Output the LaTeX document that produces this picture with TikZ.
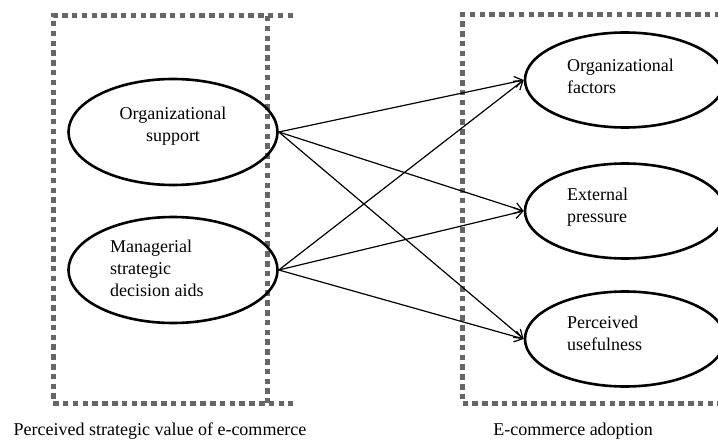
\documentclass[tikz,border=0pt]{standalone}
\usepackage{fontspec}
\setmainfont{Liberation Serif}
\usetikzlibrary{arrows.meta,shapes.geometric}
\begin{document}
\begin{tikzpicture}[x=1pt,y=-1pt,
  box/.style={draw=black!60,line width=5pt,dash pattern=on 5.5pt off 4.3pt},
  ell/.style={ellipse,draw,line width=2.6pt,minimum width=209pt,minimum height=106pt},
  ellr/.style={ell,minimum width=200pt,minimum height=95pt},
  txt/.style={align=left,font=\fontsize{18}{22}\selectfont,inner sep=0pt},
  link/.style={-{Straight Barb[length=8pt,width=11pt]},line width=1.2pt}]
\useasboundingbox (0,0) rectangle (718,441);
%boxes
\draw[box] (293,16) -- (53,16) -- (53,403) -- (293,403);
\draw[box] (267,16) -- (267,403);
\draw[box] (730,15) -- (462,15) -- (462,403) -- (730,403);
%constructs
\node[ell] (os) at (173,132) {};
\node[ell] (msda) at (173,270) {};
\node[ellr] (of) at (625,80) {};
\node[ellr] (ep) at (625,211) {};
\node[ellr] (pu) at (625,339) {};
\node[txt,align=center] (os-t) at (173,126) {Organizational\\support};
\node[txt,anchor=west] (msda-t) at (110,268) {Managerial\\strategic\\decision aids};
\node[txt,anchor=west] (of-t) at (567,76) {Organizational\\factors};
\node[txt,anchor=west] (ep-t) at (567,207) {External\\pressure};
\node[txt,anchor=west] (pu-t) at (567,333) {Perceived\\usefulness};
%links
\foreach \s in {os,msda}
  \foreach \t in {of,ep,pu}
    \draw[link] (\s.east) -- (\t.west);
%captions
\node[txt] (left-cap) at (160,431) {Perceived strategic value of e-commerce};
\node[txt] (right-cap) at (573,431) {E-commerce adoption};
\end{tikzpicture}
\end{document}
